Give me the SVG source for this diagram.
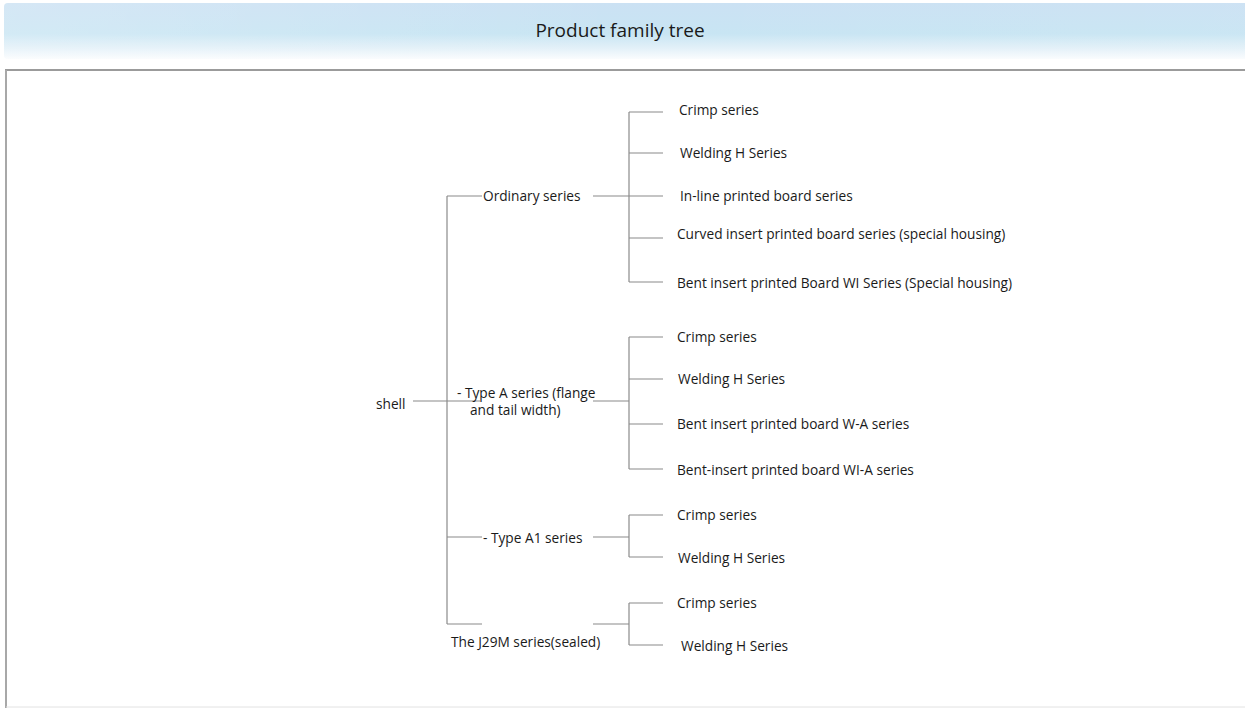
<svg xmlns="http://www.w3.org/2000/svg" width="1245" height="708" viewBox="0 0 1245 708">
<defs>
<linearGradient id="hdr" x1="0" y1="0" x2="0" y2="1">
<stop offset="0" stop-color="#cbe1f3"/>
<stop offset="0.55" stop-color="#c8e5f3"/>
<stop offset="0.8" stop-color="#e2f0f8"/>
<stop offset="1" stop-color="#fafcfe"/>
</linearGradient>
<linearGradient id="hdrx" x1="0" y1="0" x2="1" y2="0">
<stop offset="0" stop-color="#ffffff" stop-opacity="0.2"/>
<stop offset="0.5" stop-color="#ffffff" stop-opacity="0"/>
<stop offset="1" stop-color="#ffffff" stop-opacity="0.05"/>
</linearGradient>
<style>
text{font-family:"Open Sans","Noto Sans","DejaVu Sans",sans-serif;font-size:13.7px;fill:#1a1a1a;dominant-baseline:central}
.title{font-size:19px;text-anchor:middle}
.conn line{stroke:#8a8a8a;stroke-width:1.2}
</style>
</defs>
<rect x="0" y="0" width="1245" height="708" fill="#ffffff"/>
<rect x="4" y="3" width="1245" height="56" rx="4" fill="url(#hdr)"/>
<rect x="4" y="3" width="1245" height="56" rx="4" fill="url(#hdrx)"/>
<text class="title" x="620" y="30">Product family tree</text>
<line x1="5" y1="70" x2="1245" y2="70" stroke="#7a7a7a" stroke-width="1.5"/>
<line x1="6" y1="70" x2="6" y2="708" stroke="#a8a8a8" stroke-width="2"/>
<line x1="6" y1="707" x2="1245" y2="707" stroke="#e2e2e2" stroke-width="1"/>

<g id="connectors" class="conn">
<line x1="447" y1="196" x2="447" y2="624"/>
<line x1="413" y1="401" x2="480" y2="401"/>
<line x1="447" y1="196" x2="482" y2="196"/>
<line x1="447" y1="537" x2="482" y2="537"/>
<line x1="447" y1="624" x2="482" y2="624"/>
<line x1="593" y1="196" x2="629" y2="196"/>
<line x1="593" y1="401" x2="629" y2="401"/>
<line x1="593" y1="537" x2="629" y2="537"/>
<line x1="593" y1="624" x2="629" y2="624"/>
<line x1="629" y1="112" x2="629" y2="282"/>
<line x1="629" y1="112" x2="663" y2="112"/>
<line x1="629" y1="153" x2="663" y2="153"/>
<line x1="629" y1="196" x2="663" y2="196"/>
<line x1="629" y1="238" x2="663" y2="238"/>
<line x1="629" y1="282" x2="663" y2="282"/>
<line x1="629" y1="337" x2="629" y2="469"/>
<line x1="629" y1="337" x2="663" y2="337"/>
<line x1="629" y1="379" x2="663" y2="379"/>
<line x1="629" y1="424" x2="663" y2="424"/>
<line x1="629" y1="469" x2="663" y2="469"/>
<line x1="629" y1="515" x2="629" y2="557"/>
<line x1="629" y1="515" x2="663" y2="515"/>
<line x1="629" y1="557" x2="663" y2="557"/>
<line x1="629" y1="603" x2="629" y2="645"/>
<line x1="629" y1="603" x2="663" y2="603"/>
<line x1="629" y1="645" x2="663" y2="645"/>
</g>

<g id="shell"><text x="376" y="403">shell</text></g>
<g id="ordinary"><text x="483" y="195">Ordinary series</text></g>
<g id="typeA"><text x="457" y="392">- Type A series (flange</text><text x="470" y="409">and tail width)</text></g>
<g id="typeA1"><text x="483" y="537">- Type A1 series</text></g>
<g id="j29m"><text x="451" y="641">The J29M series(sealed)</text></g>

<g id="o-crimp"><text x="679" y="109">Crimp series</text></g>
<g id="o-weld"><text x="680" y="152">Welding H Series</text></g>
<g id="o-inline"><text x="680" y="195">In-line printed board series</text></g>
<g id="o-curved"><text x="677" y="233">Curved insert printed board series (special housing)</text></g>
<g id="o-bent"><text x="677" y="282">Bent insert printed Board WI Series (Special housing)</text></g>

<g id="a-crimp"><text x="677" y="336">Crimp series</text></g>
<g id="a-weld"><text x="678" y="378">Welding H Series</text></g>
<g id="a-wa"><text x="677" y="423">Bent insert printed board W-A series</text></g>
<g id="a-wia"><text x="677" y="469">Bent-insert printed board WI-A series</text></g>

<g id="a1-crimp"><text x="677" y="514">Crimp series</text></g>
<g id="a1-weld"><text x="678" y="557">Welding H Series</text></g>

<g id="j-crimp"><text x="677" y="602">Crimp series</text></g>
<g id="j-weld"><text x="681" y="645">Welding H Series</text></g>
</svg>
